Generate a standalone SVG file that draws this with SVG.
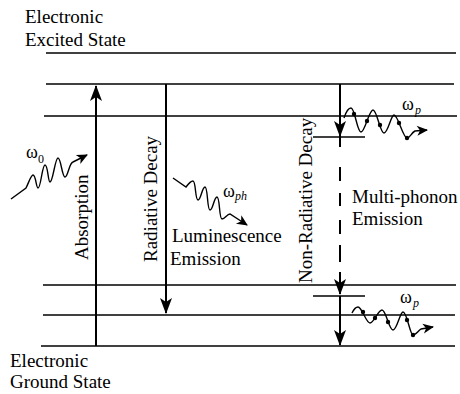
<svg xmlns="http://www.w3.org/2000/svg" width="460" height="394" viewBox="0 0 460 394">
<style>
.lvl{stroke:#000;stroke-width:1.5;fill:none}
.arr{stroke:#000;stroke-width:2;fill:none}
.wave{stroke:#000;stroke-width:1.4;fill:none}
.t{font-size:19px;fill:#000}
.w{font-size:18px;fill:#000}
.s{font-size:12px;fill:#000}
.si{font-size:12px;font-style:italic;fill:#000}
.dot{fill:#000}
</style>
<defs>
<marker id="ah" viewBox="-16 -7 17 14" refX="0" refY="0" markerWidth="17" markerHeight="14" markerUnits="userSpaceOnUse" orient="auto">
<path d="M1,0 L-15,-6 L-11,0 L-15,6 z" fill="#000"/>
</marker>
<marker id="sh" viewBox="-12 -6 13 12" refX="0" refY="0" markerWidth="13" markerHeight="12" markerUnits="userSpaceOnUse" orient="auto">
<path d="M1,0 L-10,-5 L-7,0 L-10,5 z" fill="#000"/>
</marker>
</defs>
<rect width="460" height="394" fill="#fff"/>
<g font-family="Liberation Serif, DejaVu Serif, serif">

<g id="excited-state">
<line class="lvl" x1="46" y1="53" x2="456" y2="53"/>
<line class="lvl" x1="46" y1="84" x2="454" y2="84"/>
<line class="lvl" x1="44" y1="116" x2="457" y2="116"/>
<text class="t" x="25" y="23">Electronic</text>
<text class="t" x="25" y="46">Excited State</text>
</g>

<g id="ground-state">
<line class="lvl" x1="43" y1="285" x2="456" y2="285"/>
<line class="lvl" x1="43" y1="315" x2="455" y2="315"/>
<line class="lvl" x1="41" y1="346" x2="455" y2="346"/>
<text class="t" x="10" y="367">Electronic</text>
<text class="t" x="10" y="388">Ground State</text>
</g>

<g id="connectors">
<line class="arr" x1="96" y1="346" x2="96" y2="86" marker-end="url(#ah)"/>
<line class="arr" x1="166" y1="84" x2="166" y2="313" marker-end="url(#ah)"/>
<line class="arr" x1="340" y1="84" x2="340" y2="136" marker-end="url(#ah)"/>
<line class="arr" x1="340" y1="134" x2="340" y2="147"/>
<path class="arr" d="M340,167 V181 M340,193 V206 M340,220 V234 M340,245 V262"/>
<line class="arr" x1="340" y1="272" x2="340" y2="294" marker-end="url(#ah)"/>
<line class="arr" x1="340" y1="296" x2="340" y2="345" marker-end="url(#ah)"/>
<line class="lvl" x1="313" y1="137" x2="365" y2="137"/>
<line class="lvl" x1="313" y1="296" x2="365" y2="296"/>
</g>

<g id="absorption">
<text class="t" transform="translate(88,260) rotate(-90)">Absorption</text>
<path class="wave" d="M11,199 L26,188 C29,182 31,175 33,175 C36,175 36,188 38,188 C41,188 42,165 45,165 C48,165 48,182 50,182 C53,182 55,158 58,158 C61,158 62,177 65,177 C68,177 69,163 73,162 L87,155" marker-end="url(#sh)"/>
<text class="w" x="26" y="158">ω</text><text class="s" x="38" y="163">0</text>
</g>

<g id="radiative-decay">
<text class="t" transform="translate(157,262) rotate(-90)">Radiative Decay</text>
<path class="wave" d="M173,178 L186,187 C189,183 191,181 193,181 C196,181 195,200 198,200 C201,200 202,187 205,187 C208,187 207,210 210,210 C213,210 214,197 217,197 C220,197 219,219 222,219 C225,219 227,214 230,214 L247,225" marker-end="url(#sh)"/>
<text class="w" x="223" y="197">ω</text><text class="si" x="235" y="200">ph</text>
<text class="t" x="172" y="242">Luminescence</text>
<text class="t" x="170" y="265">Emission</text>
</g>

<g id="non-radiative-decay">
<text class="t" transform="translate(312,283) rotate(-90)">Non-Radiative Decay</text>
<text class="t" x="352" y="203">Multi-phonon</text>
<text class="t" x="352" y="225">Emission</text>
</g>

<g id="phonon-top">
<path class="wave" d="M344,118 C346,112 348,108 351,108 C355,108 357,132 361,132 C365,132 369,110 373,110 C377,110 380,133 384,133 C388,133 391,115 394,115 C398,115 403,138 407,138 C410,138 411,133 415,131 L427,130" marker-end="url(#sh)"/>
<circle class="dot" cx="354" cy="114" r="2.2"/>
<circle class="dot" cx="367" cy="121" r="2.2"/>
<circle class="dot" cx="380" cy="125" r="2.2"/>
<circle class="dot" cx="399" cy="123" r="2.2"/>
<circle class="dot" cx="407" cy="138" r="2.2"/>
<text class="w" x="402" y="110">ω</text><text class="si" x="415" y="114">p</text>
</g>

<g id="phonon-bottom">
<path class="wave" d="M352,313 C354,309 356,307 358,307 C362,307 366,323 370,323 C374,323 378,310 382,310 C386,310 389,330 393,330 C397,330 400,312 403,312 C407,312 410,335 413,335 C416,335 418,331 421,329 L433,327" marker-end="url(#sh)"/>
<circle class="dot" cx="363" cy="312" r="2.2"/>
<circle class="dot" cx="375" cy="318" r="2.2"/>
<circle class="dot" cx="388" cy="322" r="2.2"/>
<circle class="dot" cx="407" cy="320" r="2.2"/>
<circle class="dot" cx="413" cy="335" r="2.2"/>
<text class="w" x="400" y="303">ω</text><text class="si" x="413" y="307">p</text>
</g>

</g>
</svg>
